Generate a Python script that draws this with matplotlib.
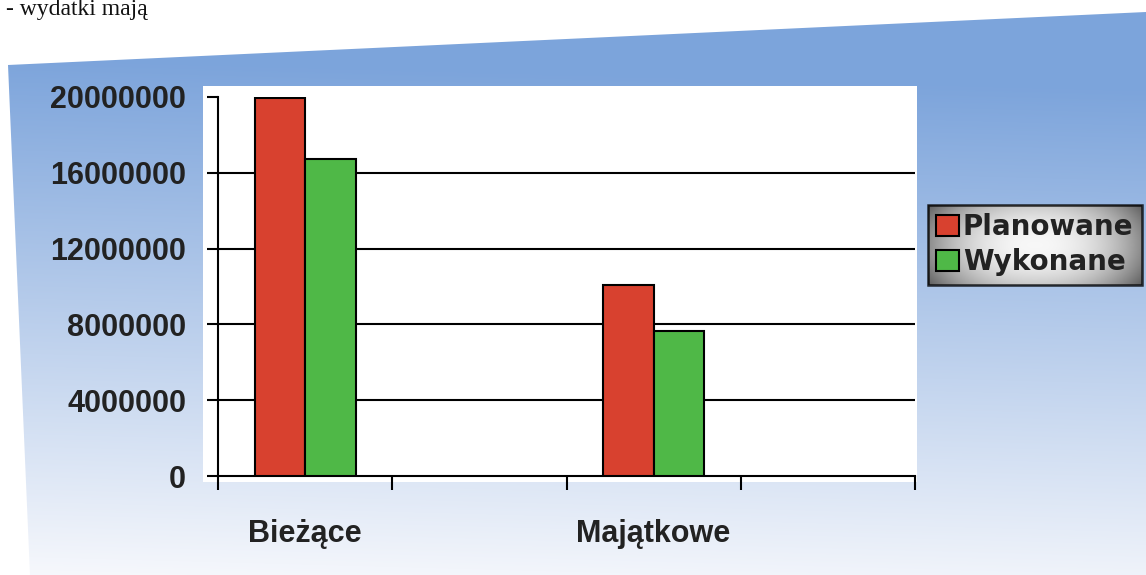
import numpy as np
import matplotlib
matplotlib.use("Agg")
import matplotlib.pyplot as plt
from matplotlib.patches import Polygon, Rectangle, Patch
from matplotlib.ticker import FuncFormatter

# ---- data ----
categories = ["Bieżące", "", "Majątkowe", ""]
planowane = [19950000, np.nan, 10100000, np.nan]
wykonane = [16750000, np.nan, 7650000, np.nan]
series_names = ["Planowane", "Wykonane"]
y_ticks = [0, 4000000, 8000000, 12000000, 16000000, 20000000]
header_text = "- wydatki mają"

RED = "#d8412f"
GREEN = "#4fb847"
TXT = "#222222"

W, H = 1146, 575
plt.rcParams["font.family"] = ["Liberation Sans", "DejaVu Sans"]
plt.rcParams["font.weight"] = "bold"

fig = plt.figure(figsize=(W / 100, H / 100), dpi=100, facecolor="white")

# ---- background panel with gradient ----
bg = fig.add_axes([0, 0, 1, 1], zorder=0)
bg.set_xlim(0, W)
bg.set_ylim(H, 0)
bg.axis("off")
ny, nx = 300, 200
ypx = np.linspace(0, H, ny)[:, None]
xf = np.linspace(0, 1, nx)[None, :]
t = np.clip((ypx - 60) / 520 - 0.06 * xf, 0, 1)
top_c = np.array([0.49, 0.645, 0.86])
bot_c = np.array([0.97, 0.975, 0.99])
img = top_c * (1 - t[..., None]) + bot_c * t[..., None]
im = bg.imshow(img, extent=[0, W, H, 0], aspect="auto", interpolation="bilinear", zorder=1)
poly = Polygon([(8, 65), (W, 12), (W, H), (30, H)], closed=True,
               transform=bg.transData, facecolor="none", edgecolor="none")
bg.add_patch(poly)
im.set_clip_path(poly)
# white plot area
bg.add_patch(Rectangle((203, 86), 917 - 203, 482 - 86, facecolor="white",
                       edgecolor="none", zorder=3))

# header text (partially cut at top in the scan)
fig.text(6 / W, 1 - 15 / H, header_text, family="Liberation Serif",
         fontweight="normal", fontsize=17, va="baseline", ha="left", color="#111111")

# ---- main chart ----
ax = fig.add_axes([218 / W, 1 - 476 / H, (915 - 218) / W, (476 - 97) / H], zorder=2)
ax.set_facecolor("white")
x = np.arange(len(categories))
w = 0.29
ax.bar(x - w / 2, planowane, w, color=RED, edgecolor="black", linewidth=1.5,
       label=series_names[0], zorder=3)
ax.bar(x + w / 2, wykonane, w, color=GREEN, edgecolor="black", linewidth=1.5,
       label=series_names[1], zorder=3)

ax.set_xlim(-0.5, len(categories) - 0.5)
ax.set_ylim(0, y_ticks[-1])
ax.set_yticks(y_ticks)
ax.yaxis.set_major_formatter(FuncFormatter(lambda v, p: f"{int(v)}"))
ax.yaxis.grid(True, color="black", linewidth=1.5)
ax.set_axisbelow(True)
gl = ax.get_ygridlines()
gl[-1].set_visible(False)
gl[0].set_visible(False)

ax.set_xticks(x)
ax.set_xticklabels(categories)
ax.set_xticks(np.arange(-0.5, len(categories), 1.0), minor=True)

for s in ["top", "right"]:
    ax.spines[s].set_visible(False)
for s in ["left", "bottom"]:
    ax.spines[s].set_color("black")
    ax.spines[s].set_linewidth(1.5)

ax.tick_params(axis="y", direction="out", length=8, width=1.5, pad=15,
               labelsize=22, labelcolor=TXT)
ax.tick_params(axis="x", which="major", length=0, pad=31, labelsize=22, labelcolor=TXT)
ax.tick_params(axis="x", which="minor", direction="out", length=10, width=1.5)
for lbl in ax.get_yticklabels() + ax.get_xticklabels():
    lbl.set_fontweight("bold")

# ---- legend ----
handles = [Patch(facecolor=RED, edgecolor="black", linewidth=1.5),
           Patch(facecolor=GREEN, edgecolor="black", linewidth=1.5)]
leg = fig.legend(handles, series_names, loc="upper left",
                 bbox_to_anchor=(928 / W, 1 - 205 / H), frameon=True, fancybox=False,
                 edgecolor="black", facecolor="none", framealpha=None,
                 prop={"family": "DejaVu Sans", "weight": "bold", "size": 20},
                 handlelength=0.8, handleheight=0.8, handletextpad=0.15,
                 borderpad=0.3, labelspacing=0.25, borderaxespad=0)
leg.get_frame().set_linewidth(1.8)
for txt in leg.get_texts():
    txt.set_color(TXT)
leg.set_zorder(6)

# metallic gradient behind the legend
fig.canvas.draw()
bb = leg.get_window_extent().transformed(fig.transFigure.inverted())
lax = fig.add_axes([bb.x0, bb.y0, bb.width, bb.height], zorder=5)
lax.axis("off")
gx = np.linspace(-1, 1, 200)[None, :]
gy = np.linspace(-1, 1, 60)[:, None]
val = np.clip(0.97 - 0.42 * np.abs(gx) ** 2.2 - 0.18 * np.abs(gy) ** 2, 0, 1)
lax.imshow(np.dstack([val, val, val]), aspect="auto", extent=[0, 1, 0, 1],
           interpolation="bilinear")
lax.set_xlim(0, 1)
lax.set_ylim(0, 1)

fig.savefig("out.png", dpi=100, facecolor="white")
